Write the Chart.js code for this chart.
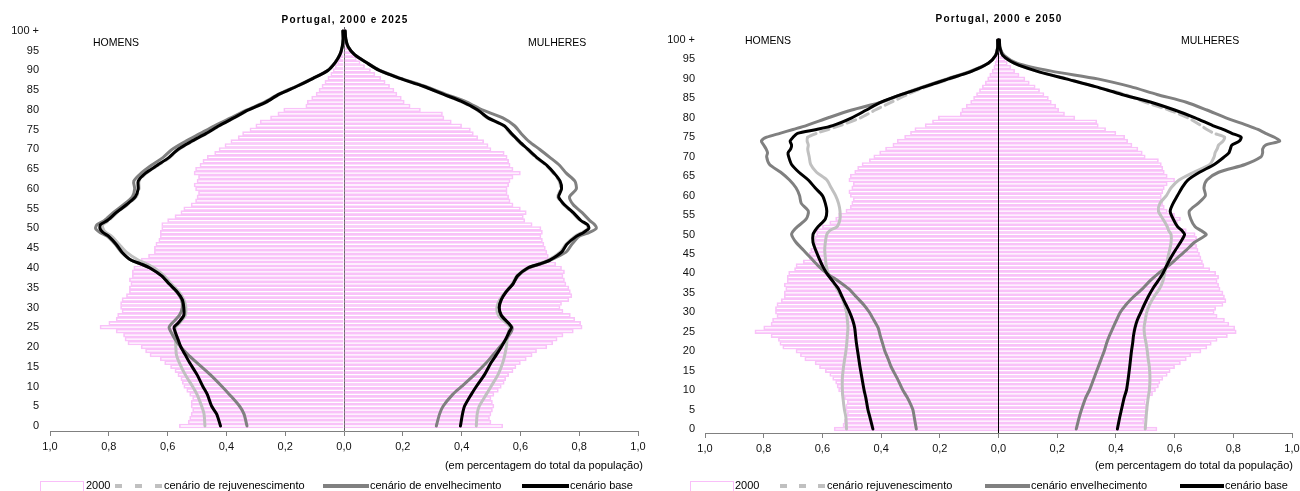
<!DOCTYPE html>
<html>
<head>
<meta charset="utf-8">
<script src="https://cdn.jsdelivr.net/npm/chart.js@4.4.1/dist/chart.umd.min.js"></script>
<style>
  body { margin: 0; background: #fff; }
  #wrap { position: relative; width: 1300px; height: 491px; overflow: hidden; font-family: "Liberation Sans", Arial, sans-serif; color: #000; }
  canvas { position: absolute; top: 0; }
  .t { position: absolute; font-size: 11px; line-height: 13px; white-space: nowrap; }
  .title { position: absolute; font-size: 10px; font-weight: bold; letter-spacing: 1.2px; line-height: 12px; white-space: nowrap; transform: translateX(-50%); }
  .sex { position: absolute; font-size: 10.5px; line-height: 12px; white-space: nowrap; }
  .rect { position: absolute; border: 1px solid #f9bff9; background: #fff; }
  .ln { position: absolute; height: 4px; }
</style>
</head>
<body>
<div id="wrap">
  <canvas id="c2025" width="650" height="491" style="left:0"></canvas>
  <canvas id="c2050" width="650" height="491" style="left:650px"></canvas>

  <div class="title" style="left:345px;top:14px">Portugal, 2000 e 2025</div>
  <div class="title" style="left:999px;top:13px">Portugal, 2000 e 2050</div>
  <div class="sex" style="left:93px;top:36px">HOMENS</div>
  <div class="sex" style="left:528px;top:36px">MULHERES</div>
  <div class="sex" style="left:745px;top:34px">HOMENS</div>
  <div class="sex" style="left:1181px;top:34px">MULHERES</div>

  <div class="t" style="right:657px;top:459px">(em percentagem do total da população)</div>
  <div class="t" style="right:7px;top:459px">(em percentagem do total da população)</div>

  <!-- legenda 2025 -->
  <div class="rect" style="left:40px;top:481px;width:42px;height:14px"></div>
  <div class="t" style="left:86px;top:479px">2000</div>
  <div class="ln" style="left:115px;top:484px;width:48px;background:repeating-linear-gradient(to right,#c0c0c0 0 7px,transparent 7px 20px)"></div>
  <div class="t" style="left:164px;top:479px">cenário de rejuvenescimento</div>
  <div class="ln" style="left:323px;top:484px;width:46px;background:#808080"></div>
  <div class="t" style="left:370px;top:479px">cenário de envelhecimento</div>
  <div class="ln" style="left:522px;top:484px;width:47px;background:#000"></div>
  <div class="t" style="left:570px;top:479px">cenário base</div>

  <!-- legenda 2050 -->
  <div class="rect" style="left:690px;top:481px;width:42px;height:14px"></div>
  <div class="t" style="left:735px;top:479px">2000</div>
  <div class="ln" style="left:780px;top:484px;width:46px;background:repeating-linear-gradient(to right,#c0c0c0 0 7px,transparent 7px 19px)"></div>
  <div class="t" style="left:827px;top:479px">cenário rejuvenescimento</div>
  <div class="ln" style="left:985px;top:484px;width:45px;background:#808080"></div>
  <div class="t" style="left:1031px;top:479px">cenário envelhecimento</div>
  <div class="ln" style="left:1180px;top:484px;width:44px;background:#000"></div>
  <div class="t" style="left:1225px;top:479px">cenário base</div>
</div>

<script>
// idades da pirâmide (0 ... 100 e mais)
const pyramidAges = [
  0, 1, 2, 3, 4, 5, 6, 7, 8, 9, 10, 11, 12, 13, 14, 15, 16, 17, 18, 19,
  20, 21, 22, 23, 24, 25, 26, 27, 28, 29, 30, 31, 32, 33, 34, 35, 36, 37, 38, 39,
  40, 41, 42, 43, 44, 45, 46, 47, 48, 49, 50, 51, 52, 53, 54, 55, 56, 57, 58, 59,
  60, 61, 62, 63, 64, 65, 66, 67, 68, 69, 70, 71, 72, 73, 74, 75, 76, 77, 78, 79,
  80, 81, 82, 83, 84, 85, 86, 87, 88, 89, 90, 91, 92, 93, 94, 95, 96, 97, 98, 99, 100
];

// população 2000 (% do total)
const men2000 = [
  0.56, 0.53, 0.525, 0.52, 0.515, 0.52, 0.52, 0.515, 0.525, 0.535,
  0.545, 0.55, 0.555, 0.565, 0.575, 0.59, 0.61, 0.625, 0.66, 0.675,
  0.69, 0.735, 0.745, 0.75, 0.775, 0.83, 0.8, 0.775, 0.77, 0.755,
  0.76, 0.76, 0.755, 0.74, 0.73, 0.73, 0.725, 0.73, 0.72, 0.72,
  0.715, 0.695, 0.69, 0.665, 0.645, 0.645, 0.64, 0.63, 0.625, 0.625,
  0.62, 0.62, 0.6, 0.575, 0.555, 0.545, 0.52, 0.505, 0.5, 0.495,
  0.505, 0.51, 0.5, 0.495, 0.51, 0.505, 0.49, 0.48, 0.465, 0.44,
  0.425, 0.405, 0.385, 0.36, 0.345, 0.32, 0.3, 0.285, 0.25, 0.225,
  0.205, 0.13, 0.125, 0.11, 0.095, 0.085, 0.075, 0.065, 0.055, 0.045,
  0.037, 0.03, 0.022, 0.016, 0.012, 0.008, 0.006, 0.004, 0.003, 0.002, 0.003
];
const women2000 = [
  0.54, 0.5, 0.495, 0.5, 0.505, 0.51, 0.505, 0.5, 0.51, 0.525,
  0.535, 0.545, 0.55, 0.56, 0.575, 0.585, 0.6, 0.62, 0.64, 0.655,
  0.69, 0.71, 0.725, 0.745, 0.78, 0.81, 0.805, 0.785, 0.77, 0.745,
  0.735, 0.74, 0.765, 0.775, 0.77, 0.765, 0.755, 0.75, 0.745, 0.75,
  0.74, 0.72, 0.7, 0.695, 0.69, 0.685, 0.68, 0.675, 0.67, 0.675,
  0.67, 0.64, 0.615, 0.61, 0.62, 0.6, 0.575, 0.565, 0.56, 0.555,
  0.555, 0.56, 0.565, 0.575, 0.6, 0.575, 0.565, 0.56, 0.555, 0.545,
  0.5, 0.49, 0.475, 0.455, 0.44, 0.43, 0.4, 0.365, 0.34, 0.335,
  0.26, 0.225, 0.205, 0.195, 0.18, 0.17, 0.155, 0.14, 0.125, 0.105,
  0.09, 0.07, 0.055, 0.042, 0.03, 0.022, 0.015, 0.01, 0.007, 0.004, 0.006
];

// projecções 2025
const ages2025 = [
  0, 3, 5, 8, 10, 13, 16, 18, 20, 22, 24, 25, 26, 28, 30, 32, 34, 36, 38, 40,
  41, 42, 44, 46, 48, 49, 50, 51, 52, 54, 56, 58, 60, 62, 64, 66, 68, 70, 72, 74,
  76, 78, 80, 82, 84, 86, 88, 90, 92, 94, 96, 98, 100
];
const baseM2025 = [
  0.42, 0.433, 0.45, 0.465, 0.48, 0.5, 0.525, 0.54, 0.555, 0.565,
  0.575, 0.578, 0.565, 0.545, 0.545, 0.55, 0.568, 0.595, 0.62, 0.66,
  0.69, 0.725, 0.755, 0.775, 0.8, 0.82, 0.83, 0.828, 0.805, 0.775,
  0.74, 0.71, 0.7, 0.7, 0.675, 0.635, 0.595, 0.565, 0.52, 0.47,
  0.425, 0.375, 0.325, 0.265, 0.22, 0.16, 0.105, 0.055, 0.03, 0.014,
  0.006, 0.003, 0.004
];
const agingM2025 = [
  0.33, 0.34, 0.355, 0.39, 0.415, 0.455, 0.5, 0.53, 0.555, 0.575,
  0.59, 0.595, 0.585, 0.56, 0.55, 0.553, 0.57, 0.595, 0.62, 0.66,
  0.69, 0.725, 0.757, 0.778, 0.805, 0.83, 0.845, 0.84, 0.815, 0.785,
  0.75, 0.72, 0.712, 0.715, 0.69, 0.655, 0.615, 0.585, 0.54, 0.49,
  0.44, 0.385, 0.33, 0.27, 0.222, 0.162, 0.107, 0.056, 0.031, 0.014,
  0.006, 0.003, 0.004
];
const youngM2025 = [
  0.473, 0.476, 0.484, 0.5, 0.515, 0.54, 0.56, 0.57, 0.572, 0.573,
  0.575, 0.573, 0.56, 0.54, 0.538, 0.545, 0.562, 0.588, 0.612, 0.645,
  0.67, 0.7, 0.74, 0.765, 0.79, 0.81, 0.82, 0.82, 0.8, 0.772,
  0.737, 0.707, 0.697, 0.697, 0.672, 0.632, 0.592, 0.562, 0.517, 0.468,
  0.423, 0.373, 0.323, 0.263, 0.218, 0.158, 0.104, 0.054, 0.03, 0.014,
  0.006, 0.003, 0.004
];
const baseF2025 = [
  0.396, 0.403, 0.41, 0.433, 0.45, 0.478, 0.5, 0.518, 0.535, 0.55,
  0.563, 0.57, 0.56, 0.535, 0.528, 0.535, 0.552, 0.575, 0.59, 0.625,
  0.665, 0.7, 0.74, 0.758, 0.79, 0.815, 0.833, 0.828, 0.806, 0.78,
  0.75, 0.73, 0.74, 0.735, 0.715, 0.69, 0.655, 0.626, 0.597, 0.57,
  0.545, 0.49, 0.455, 0.405, 0.337, 0.27, 0.19, 0.12, 0.076, 0.036,
  0.014, 0.006, 0.004
];
const agingF2025 = [
  0.314, 0.325, 0.337, 0.37, 0.4, 0.444, 0.484, 0.507, 0.53, 0.552,
  0.57, 0.572, 0.56, 0.535, 0.528, 0.535, 0.552, 0.575, 0.592, 0.628,
  0.668, 0.703, 0.755, 0.775, 0.8, 0.835, 0.858, 0.852, 0.836, 0.81,
  0.78, 0.767, 0.79, 0.785, 0.756, 0.733, 0.7, 0.666, 0.63, 0.603,
  0.58, 0.54, 0.47, 0.418, 0.345, 0.275, 0.193, 0.122, 0.077, 0.036,
  0.014, 0.006, 0.004
];
const youngF2025 = [
  0.45, 0.453, 0.46, 0.484, 0.5, 0.524, 0.54, 0.547, 0.552, 0.555,
  0.56, 0.565, 0.553, 0.525, 0.52, 0.53, 0.55, 0.572, 0.588, 0.622,
  0.66, 0.695, 0.735, 0.755, 0.785, 0.81, 0.83, 0.825, 0.803, 0.777,
  0.747, 0.727, 0.737, 0.732, 0.712, 0.687, 0.652, 0.623, 0.594, 0.567,
  0.542, 0.487, 0.452, 0.402, 0.335, 0.268, 0.188, 0.119, 0.075, 0.035,
  0.014, 0.006, 0.004
];

// projecções 2050
const ages2050 = [
  0, 3, 5, 8, 10, 13, 16, 18, 20, 22, 24, 26, 28, 30, 32, 34, 36, 38, 40, 42,
  44, 46, 48, 50, 51, 52, 54, 56, 58, 60, 62, 64, 66, 68, 70, 71, 72, 73, 74, 75,
  76, 77, 78, 80, 82, 84, 86, 88, 90, 92, 94, 96, 98, 100
];
const baseM2050 = [
  0.428, 0.438, 0.445, 0.452, 0.458, 0.465, 0.472, 0.476, 0.48, 0.484,
  0.487, 0.49, 0.497, 0.507, 0.52, 0.533, 0.545, 0.565, 0.585, 0.6,
  0.612, 0.623, 0.632, 0.632, 0.625, 0.615, 0.59, 0.585, 0.59, 0.6,
  0.625, 0.648, 0.68, 0.705, 0.715, 0.717, 0.708, 0.705, 0.71, 0.7,
  0.685, 0.62, 0.565, 0.5, 0.45, 0.4, 0.33, 0.25, 0.17, 0.09,
  0.035, 0.01, 0.003, 0.003
];
const agingM2050 = [
  0.28, 0.287, 0.292, 0.31, 0.326, 0.345, 0.366, 0.376, 0.387, 0.395,
  0.403, 0.41, 0.425, 0.44, 0.46, 0.485, 0.51, 0.545, 0.585, 0.615,
  0.64, 0.665, 0.69, 0.705, 0.698, 0.685, 0.655, 0.648, 0.672, 0.678,
  0.69, 0.712, 0.742, 0.78, 0.79, 0.787, 0.792, 0.8, 0.808, 0.79,
  0.745, 0.7, 0.655, 0.58, 0.5, 0.4, 0.33, 0.255, 0.175, 0.095,
  0.035, 0.01, 0.003, 0.003
];
const youngM2050 = [
  0.518, 0.52, 0.525, 0.53, 0.532, 0.532, 0.528, 0.524, 0.52, 0.517,
  0.515, 0.513, 0.515, 0.518, 0.525, 0.535, 0.55, 0.565, 0.58, 0.587,
  0.59, 0.592, 0.59, 0.585, 0.575, 0.55, 0.54, 0.54, 0.545, 0.555,
  0.57, 0.585, 0.62, 0.64, 0.645, 0.648, 0.65, 0.648, 0.652, 0.65,
  0.62, 0.58, 0.54, 0.47, 0.42, 0.365, 0.31, 0.245, 0.165, 0.088,
  0.034, 0.01, 0.003, 0.003
];
const baseF2050 = [
  0.405, 0.413, 0.419, 0.428, 0.436, 0.442, 0.447, 0.45, 0.453, 0.457,
  0.46, 0.465, 0.473, 0.485, 0.497, 0.51, 0.525, 0.543, 0.56, 0.573,
  0.587, 0.603, 0.62, 0.634, 0.625, 0.61, 0.595, 0.585, 0.595, 0.61,
  0.625, 0.645, 0.685, 0.735, 0.77, 0.785, 0.79, 0.795, 0.82, 0.827,
  0.795, 0.765, 0.73, 0.67, 0.6, 0.52, 0.42, 0.33, 0.23, 0.13,
  0.055, 0.015, 0.005, 0.003
];
const agingF2050 = [
  0.265, 0.275, 0.283, 0.297, 0.31, 0.325, 0.34, 0.35, 0.36, 0.368,
  0.378, 0.39, 0.402, 0.415, 0.435, 0.46, 0.49, 0.515, 0.545, 0.58,
  0.61, 0.64, 0.668, 0.708, 0.69, 0.67, 0.655, 0.65, 0.68, 0.705,
  0.7, 0.71, 0.75, 0.84, 0.895, 0.9, 0.9, 0.91, 0.958, 0.94,
  0.91, 0.884, 0.85, 0.775, 0.71, 0.64, 0.54, 0.45, 0.338, 0.18,
  0.065, 0.02, 0.005, 0.003
];
const youngF2050 = [
  0.5, 0.503, 0.505, 0.51, 0.514, 0.516, 0.514, 0.51, 0.507, 0.503,
  0.498, 0.496, 0.5, 0.505, 0.515, 0.53, 0.548, 0.56, 0.566, 0.572,
  0.577, 0.583, 0.588, 0.588, 0.58, 0.575, 0.56, 0.545, 0.55, 0.572,
  0.588, 0.615, 0.665, 0.72, 0.735, 0.738, 0.745, 0.75, 0.765, 0.77,
  0.735, 0.71, 0.69, 0.645, 0.58, 0.5, 0.43, 0.33, 0.235, 0.13,
  0.055, 0.015, 0.005, 0.003
];

const ageTicks = [0, 5, 10, 15, 20, 25, 30, 35, 40, 45, 50, 55, 60, 65, 70, 75, 80, 85, 90, 95, 100];
const valueTicks = [-1, -0.8, -0.6, -0.4, -0.2, 0, 0.2, 0.4, 0.6, 0.8, 1];

Chart.defaults.font.family = '"Liberation Sans", Arial, sans-serif';
Chart.defaults.font.size = 11;
Chart.defaults.color = "#000";

const PINK = "#f9c2f9";

function barSet(values, sign) {
  return {
    type: "bar",
    indexAxis: "y",
    data: pyramidAges.map((a, i) => ({ x: sign * values[i], y: a })),
    backgroundColor: "rgba(255,255,255,0)",
    borderColor: PINK,
    borderWidth: 1,
    barPercentage: 1,
    categoryPercentage: 1,
    grouped: false,
    order: 10,
  };
}

function lineSet(ages, values, sign, color, order, dashFrom) {
  const ds = {
    type: "line",
    indexAxis: "y",
    data: ages.map((a, i) => ({ x: sign * values[i], y: a })),
    borderColor: color,
    borderWidth: 3,
    pointRadius: 0,
    fill: false,
    tension: 0.25,
    borderJoinStyle: "round",
    borderCapStyle: "round",
    order: order,
  };
  if (dashFrom !== undefined) {
    // geração já existente em 2000: tracejado
    ds.segment = {
      borderDash: (ctx) => (ctx.p0.parsed.y >= dashFrom ? [9, 5] : undefined),
    };
  }
  return ds;
}

function makePyramid(id, p) {
  const ctx = document.getElementById(id).getContext("2d");
  return new Chart(ctx, {
    type: "bar",
    data: {
      datasets: [
        barSet(men2000, -1),
        barSet(women2000, 1),
        lineSet(p.ages, p.youngM, -1, "#c0c0c0", 3, p.dashFrom),
        lineSet(p.ages, p.youngF, 1, "#c0c0c0", 3, p.dashFrom),
        lineSet(p.ages, p.agingM, -1, "#808080", 2),
        lineSet(p.ages, p.agingF, 1, "#808080", 2),
        lineSet(p.ages, p.baseM, -1, "#000", 1),
        lineSet(p.ages, p.baseF, 1, "#000", 1),
      ],
    },
    options: {
      indexAxis: "y",
      responsive: false,
      animation: false,
      layout: { padding: { top: p.top, right: p.right, left: 0, bottom: 0 } },
      plugins: { legend: { display: false }, tooltip: { enabled: false } },
      scales: {
        x: {
          type: "linear",
          min: -1,
          max: 1,
          afterBuildTicks: (s) => { s.ticks = valueTicks.map((v) => ({ value: v })); },
          afterFit: (s) => {
            s.height = p.xHeight;
            s.paddingLeft = 0; s.paddingRight = 0;
          },
          ticks: {
            padding: 4,
            color: "#111",
            callback: (v) => Math.abs(v).toFixed(1).replace(".", ","),
          },
          grid: {
            color: (c) => (c.tick && Math.abs(c.tick.value) < 1e-9 ? p.zeroColor : "rgba(0,0,0,0)"),
            tickColor: "#808080",
            tickLength: 5,
          },
          border: { display: true, color: "#808080", width: 1 },
        },
        y: {
          type: "linear",
          offset: false,
          min: p.yMin,
          max: p.yMax,
          afterBuildTicks: (s) => { s.ticks = ageTicks.map((v) => ({ value: v })); },
          afterFit: (s) => {
            s.width = p.yWidth;
            s.paddingTop = 0; s.paddingBottom = 0;
          },
          ticks: {
            padding: p.yPad,
            color: "#111",
            callback: (v) => (v === 100 ? "100 +" : String(v)),
          },
          grid: { display: false, drawTicks: false, offset: false },
          border: { display: false },
        },
      },
    },
  });
}

makePyramid("c2025", {
  ages: ages2025,
  baseM: baseM2025, agingM: agingM2025, youngM: youngM2025,
  baseF: baseF2025, agingF: agingF2025, youngF: youngF2025,
  dashFrom: 50,
  top: 27, right: 12, xHeight: 60, yWidth: 50, yPad: 11,
  yMin: -1.27, yMax: 101.0,
  zeroColor: "#5f5f5f",
});

makePyramid("c2050", {
  ages: ages2050,
  baseM: baseM2050, agingM: agingM2050, youngM: youngM2050,
  baseF: baseF2050, agingF: agingF2050, youngF: youngF2050,
  dashFrom: 75,
  top: 38, right: 8, xHeight: 58, yWidth: 55, yPad: 10,
  yMin: -1.03, yMax: 100.51,
  zeroColor: "#000",
});
</script>
</body>
</html>
